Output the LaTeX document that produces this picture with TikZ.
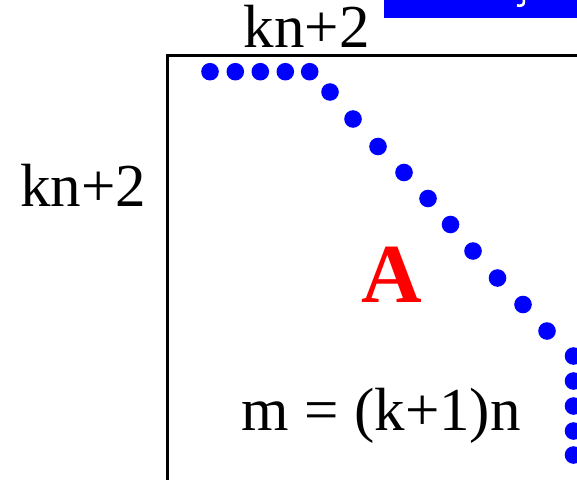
\documentclass[tikz,border=0pt]{standalone}
\usepackage{fontspec}
\setmainfont{Liberation Serif}
\newfontfamily\tnr{Liberation Serif}
\definecolor{pureblue}{RGB}{0,0,255}
\definecolor{purered}{RGB}{255,0,0}
\begin{document}
\begin{tikzpicture}[x=1pt,y=1pt,
  dotstyle/.style={fill=pureblue,draw=none},
  txtlabel/.style={font=\tnr\fontsize{61}{70}\selectfont,inner sep=0pt,anchor=base},
  bigA/.style={font=\tnr\fontsize{84}{90}\selectfont\bfseries,text=purered,inner sep=0pt,anchor=base},
  frame/.style={line width=2.5pt,black}]
\useasboundingbox (0,0) rectangle (577,480);
% blue bar at top (cut off)
\fill[pureblue] (384,461.7) rectangle (577,480);
\draw[white,line width=2.6pt] (523.8,480) -- (523.8,477.5) .. controls (523.8,474.5) and (520.5,473.8) .. (517,474.6);
% frame
\coordinate (tl) at (167.5,424.5);
\coordinate (tr) at (577,424.5);
\coordinate (bl) at (167.5,0);
\draw[frame] (tr) -- (tl) -- (bl);
% labels
\node[txtlabel] (top) at (306.7,432) {kn+2};
\node[txtlabel] (left) at (83,273.5) {kn+2};
\node[bigA] (A) at (391.5,177.5) {A};
\node[txtlabel] (m) at (381.3,50) {m = (k+1)n};
% dots
\foreach \x/\y [count=\i] in {210/71.7,235.3/71.7,260.3/71.7,285.3/71.7,309.7/71.7,
  330/92,353/119,378/146.5,404/172.5,428/198.5,450.5/224.5,473/251,497.5/278,523/304.5,547/331,
  573.5/356,573.5/381,573.5/406,573.5/431,573.5/455}
  \fill[dotstyle] (\x,480-\y) circle (8.8);
\end{tikzpicture}
\end{document}
